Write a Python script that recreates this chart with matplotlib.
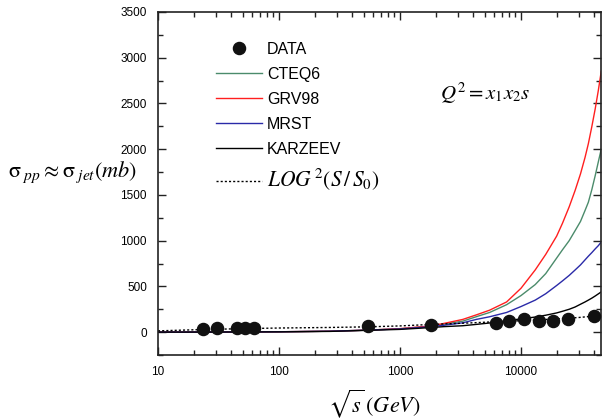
import matplotlib
matplotlib.use('Agg')
import matplotlib.pyplot as plt
from matplotlib.ticker import FixedLocator, MultipleLocator, NullFormatter, FixedFormatter

plt.rcParams['font.family'] = ['Liberation Sans', 'DejaVu Sans']
plt.rcParams['mathtext.fontset'] = 'stix'

# ---- data ----
data_energy = [23.5, 30.7, 44.7, 52.8, 62.5, 546, 1800,
               6170, 8000, 10640, 14000, 18500, 24300, 40100]
data_sigma = [39, 41, 41, 42, 43, 66, 80,
              105, 119, 140, 121, 117, 148, 177]

curve_energy = [10, 30, 100, 263, 546, 1000, 1800, 2300, 3300, 4300, 5500,
                7600, 10000, 13100, 16000, 19700, 22000, 25000, 28000, 31000,
                33800, 36000, 38500, 41000, 43500, 46000]
cteq6 = [0, 1, 4, 10, 22, 37, 64, 88, 120, 170, 215,
         300, 400, 520, 640, 810, 900, 1000, 1110, 1210,
         1330, 1420, 1560, 1710, 1860, 2000]
grv98 = [0, 1, 4, 10, 22, 38, 68, 95, 139, 190, 240,
         330, 480, 680, 850, 1050, 1190, 1370, 1550, 1730,
         1910, 2060, 2250, 2440, 2640, 2850]
mrst = [0, 1, 4, 10, 22, 35, 60, 75, 102, 140, 168,
        215, 280, 350, 420, 510, 560, 620, 680, 735,
        790, 830, 870, 910, 945, 985]
karzeev = [0, 1, 3, 8, 20, 30, 50, 60, 70, 85, 100,
           125, 145, 165, 185, 210, 228, 250, 275, 305,
           330, 350, 372, 395, 418, 440]

log2_energy = [10, 23, 50, 100, 263, 546, 1000, 1800, 4000, 6000, 10000, 20000, 30000, 46000]
log2_sigma = [14, 28, 38, 45, 51, 58, 68, 84, 102, 113, 125, 145, 160, 183]

x_ticks = [10, 100, 1000, 10000]
x_tick_labels = ['10', '100', '1000', '10000']
y_ticks = [0, 500, 1000, 1500, 2000, 2500, 3000, 3500]

# ---- figure ----
fig = plt.figure(figsize=(6.02, 4.19), dpi=100)
ax = fig.add_axes([158 / 602, 1 - 355 / 419, 443 / 602, 343 / 419])
ax.set_xscale('log')
ax.set_xlim(10, 45800)
ax.set_ylim(-250, 3500)

ax.plot(curve_energy, cteq6, color='#4b8b6b', lw=1.0, label='CTEQ6', zorder=2)
ax.plot(curve_energy, grv98, color='#ff1f1f', lw=1.0, label='GRV98', zorder=2)
ax.plot(curve_energy, mrst, color='#2a2aa8', lw=1.0, label='MRST', zorder=2)
ax.plot(curve_energy, karzeev, color='black', lw=1.0, label='KARZEEV', zorder=2)
ax.plot(log2_energy, log2_sigma, color='black', lw=1.0, linestyle=(0, (1.5, 1.5)),
        label=r'$LOG^{\,2}(S\,/\,S_0)$', zorder=2)
ax.plot(data_energy, data_sigma, 'o', color='#111111', ms=8.7, label='DATA', zorder=4)

# legend in reference order
handles, labels = ax.get_legend_handles_labels()
order = [5, 0, 1, 2, 3, 4]
leg = ax.legend([handles[i] for i in order], [labels[i] for i in order],
                loc='upper left', bbox_to_anchor=((216 - 158) / 443, (355 - 42) / 343),
                frameon=False, fontsize=11.5, handlelength=2.9, handletextpad=0.3,
                labelspacing=0.62, borderpad=0, borderaxespad=0, numpoints=1)
leg.get_texts()[5].set_fontsize(15.5)

ax.text(0.636, 0.763, r'$Q^2 = x_1 x_2 s$', transform=ax.transAxes,
        fontsize=15, ha='left', va='center')

fig.text(8 / 602, 1 - 172 / 419, r'$\mathrm{\sigma}_{\;pp} \approx \mathrm{\sigma}_{\;jet}(mb)$',
         fontsize=16, ha='left', va='center')
fig.text(374 / 602, 1 - 404 / 419, r'$\sqrt{s}\,(GeV)$', fontsize=16,
         ha='center', va='center')

# ticks
ax.xaxis.set_major_locator(FixedLocator(x_ticks))
ax.xaxis.set_major_formatter(FixedFormatter(x_tick_labels))
minor = [m * 10 ** e for e in range(1, 5) for m in range(2, 10)]
ax.xaxis.set_minor_locator(FixedLocator(minor))
ax.xaxis.set_minor_formatter(NullFormatter())
ax.yaxis.set_major_locator(FixedLocator(y_ticks))
ax.yaxis.set_minor_locator(MultipleLocator(250))

ax.tick_params(which='both', direction='in', top=True, right=True,
               labelsize=8.5, width=1.0, color='#222222')
ax.tick_params(which='major', length=6, pad=8)
ax.tick_params(which='minor', length=3.5)
for s in ax.spines.values():
    s.set_linewidth(1.2)
    s.set_color('#222222')

fig.savefig('out.png', dpi=100)
